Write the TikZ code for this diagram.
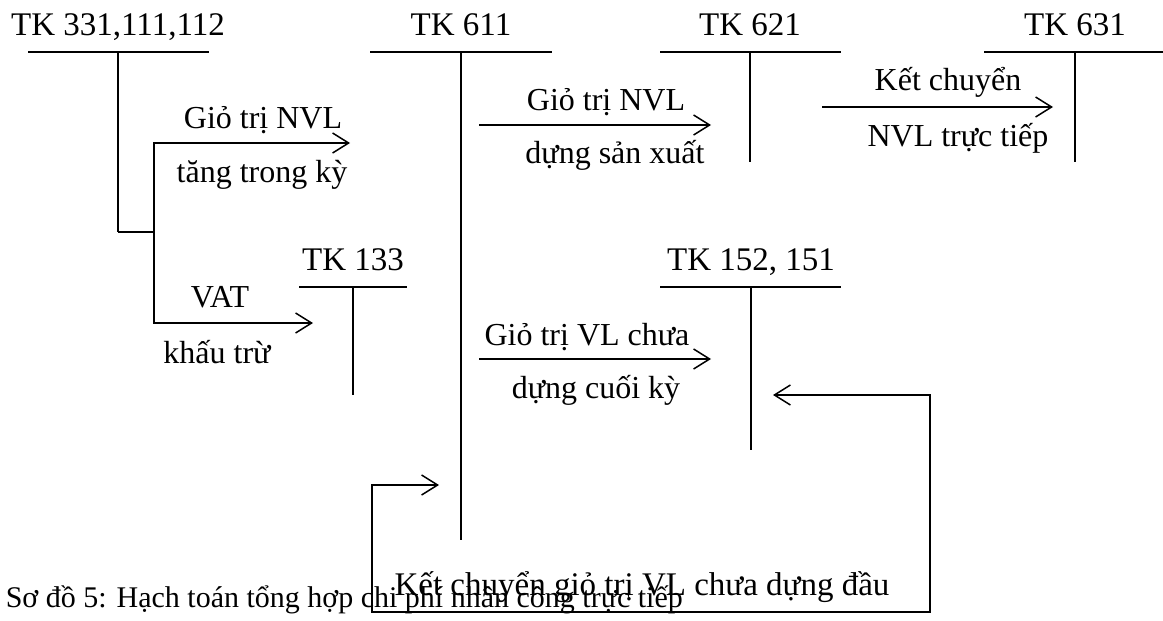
\documentclass[tikz,border=0pt]{standalone}
\usepackage{fontspec}
\setmainfont{Liberation Serif}
\usetikzlibrary{arrows.meta}

\begin{document}
\begin{tikzpicture}[x=1pt, y=-1pt, line width=1.5pt,
	every node/.style={font=\fontsize{32}{38}\selectfont, inner sep=0pt, anchor=base},
	tk/.style={font=\fontsize{33}{40}\selectfont},
	>={Straight Barb[length=16pt,width=20pt]}]
	\useasboundingbox (0,0) rectangle (1163,621);
	% T accounts: name/title/x/top/left/right/bottom
	\foreach \n/\txt/\x/\y/\l/\r/\b in {
		a/{TK 331,111,112}/118/52/28/209/232,
		b/{TK 611}/461/52/370/552/540,
		c/{TK 621}/750/52/660/841/162,
		d/{TK 631}/1075/52/984/1163/162,
		e/{TK 133}/353/287/299/407/395,
		f/{TK 152, 151}/751/287/660/841/450}
	{
		\node[tk] (\n) at (\x,\y-17) {\txt};
		\coordinate (\n-top) at (\x,\y);
		\coordinate (\n-bot) at (\x,\b);
		\draw (\l,\y) -- (\r,\y) (\n-top) -- (\n-bot);
	}
	% purchases and VAT
	\coordinate (fork) at (154,232);
	\coordinate (nvl in) at (350,143);
	\coordinate (vat in) at (313,323);
	\draw (a-bot) -- (fork);
	\draw[->] (fork) |- (nvl in);
	\draw[->] (fork) |- (vat in);
	\node at (263,128) {Giỏ trị NVL};
	\node at (262,182) {tăng trong kỳ};
	\node at (220,307) {VAT};
	\node at (217,363) {khấu trừ};
	% 611 -> 621 -> 631
	\coordinate (use out) at (479,125);
	\coordinate (use in) at (711,125);
	\draw[->] (use out) -- (use in);
	\node at (606,110) {Giỏ trị NVL};
	\node at (615,163) {dựng sản xuất};
	\coordinate (kc out) at (822,107);
	\coordinate (kc in) at (1053,107);
	\draw[->] (kc out) -- (kc in);
	\node at (948,90) {Kết chuyển};
	\node at (958,146) {NVL trực tiếp};
	% closing stock
	\coordinate (end out) at (479,359);
	\coordinate (end in) at (711,359);
	\draw[->] (end out) -- (end in);
	\node at (587,345) {Giỏ trị VL chưa};
	\node at (596,398) {dựng cuối kỳ};
	% opening stock, back into 611
	\coordinate (open in) at (439,485);
	\coordinate (open out) at (773,395);
	\draw[<->] (open in) -- (372,485) -- (372,612) -- (930,612) -- (930,395) -- (open out);
	\node[tk] (open) at (642,595) {Kết chuyển giỏ trị VL chưa dựng đầu};
	\node[anchor=base west, font=\fontsize{30}{36}\selectfont] (cap) at (5,607) {Sơ đồ 5: Hạch toán tổng hợp chi phí nhân công trực tiếp};
\end{tikzpicture}
\end{document}
